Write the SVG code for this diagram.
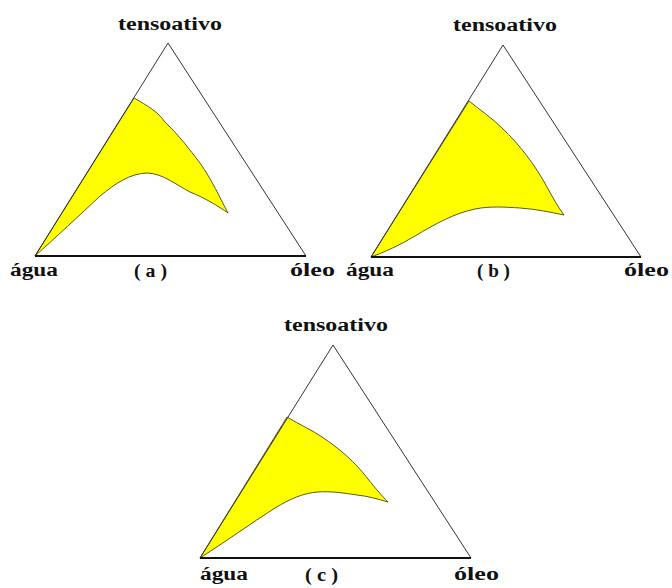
<svg xmlns="http://www.w3.org/2000/svg" width="672" height="588" viewBox="0 0 672 588">
<style>
.side{fill:none;stroke:#333;stroke-width:1}
.base{fill:none;stroke:#111;stroke-width:2.2}
.reg{fill:#ffff00;stroke:#5a5a20;stroke-width:1}
text{font-family:"Liberation Serif","DejaVu Serif",serif;font-weight:bold;font-size:18px;fill:#111}
</style>
<rect width="672" height="588" fill="#fff"/>
<g id="diagram-a">
<path class="reg" d="M35,256 L134,98 C148,106 158,112 165,122 C178,134 190,150 200,163 C212,180 220,198 228,213 C218,206 205,198 190,192 C175,184 163,174 148,173 C130,173 115,184 100,196 C80,215 55,238 35,256 Z"/>
<path class="side" d="M35,256 L168,43 L306,256"/>
<path class="base" d="M35,256 L306,256"/>
<text x="170" y="30" text-anchor="middle" textLength="104" lengthAdjust="spacingAndGlyphs">tensoativo</text>
<text x="10" y="276" textLength="48" lengthAdjust="spacingAndGlyphs">água</text>
<text x="134" y="277" textLength="33" lengthAdjust="spacingAndGlyphs">( a )</text>
<text x="290" y="276" textLength="45" lengthAdjust="spacingAndGlyphs">óleo</text>
</g>
<g id="diagram-b">
<path class="reg" d="M371,257 L469,101 C480,110 492,118 502,128 C520,145 535,165 547,187 C553,198 558,207 564,215 C550,212 535,209 520,208 C505,207 490,206 475,209 C455,213 435,224 415,236 C400,245 385,252 371,257 Z"/>
<path class="side" d="M371,257 L503,45 L641,257"/>
<path class="base" d="M371,257 L641,257"/>
<text x="505" y="31" text-anchor="middle" textLength="104" lengthAdjust="spacingAndGlyphs">tensoativo</text>
<text x="346" y="276" textLength="48" lengthAdjust="spacingAndGlyphs">água</text>
<text x="477" y="277" textLength="33" lengthAdjust="spacingAndGlyphs">( b )</text>
<text x="624" y="276" textLength="45" lengthAdjust="spacingAndGlyphs">óleo</text>
</g>
<g id="diagram-c">
<path class="reg" d="M200,558 L287,417 C300,425 312,430 322,437 C340,449 355,462 368,479 C376,489 382,496 388,502 C378,499 367,496 357,495 C344,493 330,491 318,492 C303,493 290,499 275,508 C250,524 225,542 200,558 Z"/>
<path class="side" d="M200,558 L333,345 L471,558"/>
<path class="base" d="M200,558 L471,558"/>
<text x="336" y="331" text-anchor="middle" textLength="104" lengthAdjust="spacingAndGlyphs">tensoativo</text>
<text x="200" y="580" textLength="48" lengthAdjust="spacingAndGlyphs">água</text>
<text x="305" y="581" textLength="33" lengthAdjust="spacingAndGlyphs">( c )</text>
<text x="454" y="580" textLength="45" lengthAdjust="spacingAndGlyphs">óleo</text>
</g>
</svg>
